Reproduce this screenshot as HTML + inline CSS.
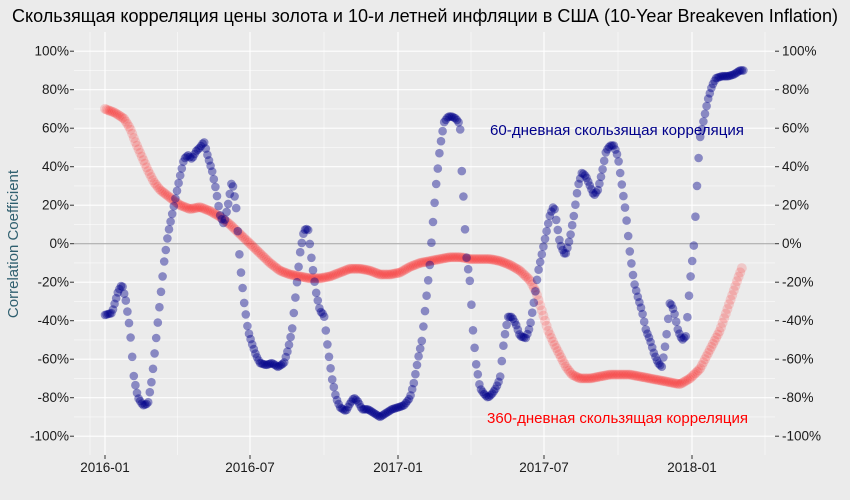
<!DOCTYPE html>
<html><head><meta charset="utf-8"><style>
body{margin:0;background:#EBEBEB;}
svg{display:block;font-family:"Liberation Sans",sans-serif;}
</style></head><body>
<svg id="s" width="850" height="500" xmlns="http://www.w3.org/2000/svg">
<rect width="850" height="500" fill="#EBEBEB"/>
<g id="grid"></g>
<line x1="74" x2="775" y1="243.7" y2="243.7" stroke="#A0A0A0" stroke-width="1"/>
<g id="red"></g><g id="blue"></g>
<g id="labels" font-size="13.5" fill="#1a1a1a"></g>
<text x="425" y="22" text-anchor="middle" font-size="18" fill="#000" textLength="826" lengthAdjust="spacingAndGlyphs">Скользящая корреляция цены золота и 10-и летней инфляции в США (10-Year Breakeven Inflation)</text>
<text transform="translate(18,244) rotate(-90)" text-anchor="middle" font-size="15" fill="#2F5F6F">Correlation Coefficient</text>
<text x="490" y="135" font-size="15" fill="#00008B" textLength="254" lengthAdjust="spacingAndGlyphs">60-дневная скользящая корреляция</text>
<text x="487" y="423" font-size="15" fill="#FF0000" textLength="261" lengthAdjust="spacingAndGlyphs">360-дневная скользящая корреляция</text>
</svg>
<script>
const NS="http://www.w3.org/2000/svg";
function el(p,t,a,txt){const e=document.createElementNS(NS,t);for(const k in a)e.setAttribute(k,a[k]);if(txt!==undefined)e.textContent=txt;p.appendChild(e);return e;}
const Y=v=>243.7-1.925*v;
const g=document.getElementById('grid'),L=document.getElementById('labels');
for(let v=-100;v<=100;v+=10){const y=Y(v);el(g,'line',{x1:74,x2:775,y1:y,y2:y,stroke:'#fff','stroke-width':v%20==0?1.1:0.5});}
const xs=[105,250,398,544,692],xl=['2016-01','2016-07','2017-01','2017-07','2018-01'];
xs.forEach((x,i)=>{el(g,'line',{x1:x,x2:x,y1:32,y2:455,stroke:'#fff','stroke-width':1.1});
el(g,'line',{x1:x,x2:x,y1:455,y2:459,stroke:'#333'});
el(L,'text',{x:x,y:472,'text-anchor':'middle'},xl[i]);
if(i<4){const m=(x+xs[i+1])/2;el(g,'line',{x1:m,x2:m,y1:32,y2:455,stroke:'#fff','stroke-width':0.5});}});
el(g,'line',{x1:765,x2:765,y1:32,y2:455,stroke:'#fff','stroke-width':0.5});
el(g,'line',{x1:90,x2:90,y1:32,y2:455,stroke:'#fff','stroke-width':0.5});
for(let v=-100;v<=100;v+=20){const y=Y(v);
el(L,'text',{x:69,y:y+4.5,'text-anchor':'end'},v+'%');
el(L,'line',{x1:70,x2:74,y1:y,y2:y,stroke:'#333'});
el(L,'line',{x1:775,x2:779,y1:y,y2:y,stroke:'#333'});
el(L,'text',{x:782,y:y+4.5},v+'%');}
const B=[[105,-37],[112,-36],[118,-25],[122,-21],[126,-30],[130,-45],[134,-70],[138,-80],[143,-84],[148,-83],[152,-70],[156,-50],[160,-30],[164,-10],[168,5],[172,15],[176,25],[180,35],[184,44],[188,46],[192,44],[196,48],[200,50],[204,53],[208,45],[212,38],[216,28],[220,15],[224,10],[228,20],[232,33],[236,20],[238,5],[240,-10],[244,-30],[248,-45],[252,-52],[256,-58],[260,-62],[266,-63],[272,-62],[278,-64],[284,-62],[288,-55],[292,-45],[296,-25],[300,-5],[304,7],[308,8],[312,-10],[316,-25],[320,-35],[324,-37],[328,-55],[332,-70],[336,-80],[340,-85],[346,-87],[350,-83],[354,-80],[358,-82],[362,-86],[368,-86],[374,-88],[380,-90],[386,-88],[392,-86],[398,-85],[404,-84],[410,-80],[414,-72],[418,-60],[422,-50],[426,-30],[430,-10],[432,5],[436,30],[440,50],[444,63],[448,66],[452,66],[456,65],[460,62],[462,35],[464,20],[466,-5],[470,-20],[473,-45],[476,-62],[480,-75],[484,-78],[488,-80],[492,-78],[496,-75],[500,-70],[504,-50],[508,-38],[512,-38],[516,-42],[520,-48],[526,-49],[530,-43],[534,-30],[538,-15],[542,-5],[546,5],[550,15],[554,20],[556,13],[560,0],[564,-5],[566,-5],[570,3],[574,15],[578,30],[582,37],[586,35],[590,30],[594,25],[598,28],[602,37],[606,48],[610,51],[614,51],[618,45],[622,30],[626,15],[630,-5],[634,-20],[638,-28],[642,-35],[646,-45],[650,-50],[654,-57],[658,-62],[662,-64],[666,-50],[670,-30],[674,-35],[678,-45],[682,-50],[686,-48],[690,-20],[694,0],[696,20],[698,40],[700,55],[704,65],[708,75],[712,82],[716,86],[722,87],[728,87],[734,88],[740,90],[745,90]];
const R=[[105,70],[115,68],[124,65],[130,60],[136,52],[142,45],[148,38],[154,32],[160,28],[170,24],[180,20],[190,18],[200,19],[210,17],[220,14],[230,10],[240,5],[250,0],[260,-5],[270,-10],[280,-14],[290,-16],[300,-17],[310,-18],[320,-18],[330,-17],[340,-15],[350,-13],[360,-13],[370,-14],[380,-16],[390,-16],[400,-15],[410,-12],[420,-10],[430,-9],[440,-8],[450,-7],[460,-7],[470,-8],[480,-8],[490,-8],[500,-9],[510,-11],[520,-14],[530,-19],[536,-25],[542,-35],[548,-45],[554,-52],[560,-58],[566,-64],[572,-68],[580,-70],[590,-70],[600,-69],[610,-68],[620,-68],[630,-68],[640,-69],[650,-70],[660,-71],[670,-72],[680,-73],[690,-70],[700,-65],[710,-55],[720,-45],[730,-30],[738,-18],[743,-11]];
function draw(id,P,col,op,r,st){const G=document.getElementById(id);
for(let x=P[0][0];x<=P[P.length-1][0];x+=st){let i=0;while(i<P.length-2&&P[i+1][0]<x)i++;
const [x0,y0]=P[i],[x1,y1]=P[i+1];const v=y0+(y1-y0)*(x-x0)/(x1-x0);
el(G,'circle',{cx:x.toFixed(1),cy:Y(v).toFixed(1),r:r,fill:col,'fill-opacity':op});}}
draw('red',R,'#FF0000',0.15,5,1.6);
draw('blue',B,'#00008B',0.42,4.3,1.6);
</script>
</body></html>
